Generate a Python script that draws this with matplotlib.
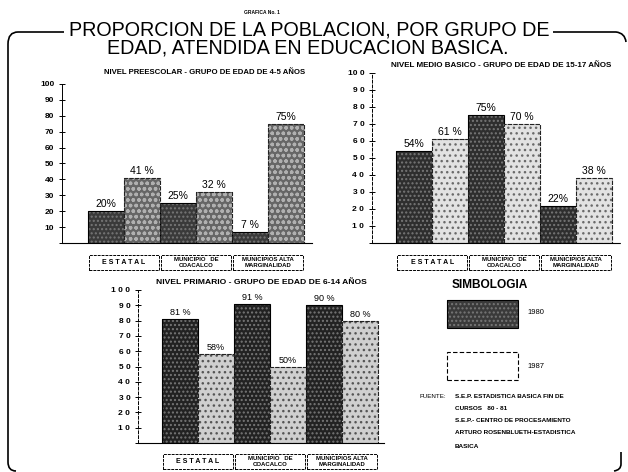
import matplotlib
matplotlib.use("Agg")
import matplotlib.pyplot as plt
from matplotlib.path import Path
from matplotlib.patches import PathPatch, Rectangle

# Data
categorias = ["E S T A T A L", "MUNICIPIO   DE\nCOACALCO", "MUNICIPIOS ALTA\nMARGINALIDAD"]
preescolar_1980 = [20, 25, 7]
preescolar_1987 = [41, 32, 75]
medio_1980 = [54, 75, 22]
medio_1987 = [61, 70, 38]
primario_1980 = [81, 91, 90]
primario_1987 = [58, 50, 80]
etiq_preescolar = [["20%", "41 %"], ["25%", "32 %"], ["7 %", "75%"]]
etiq_medio = [["54%", "61 %"], ["75%", "70 %"], ["22%", "38 %"]]
etiq_primario = [["81 %", "58%"], ["91 %", "50%"], ["90 %", "80 %"]]

W, H = 628, 472
fig = plt.figure(figsize=(W / 100, H / 100), dpi=100)
fig.patch.set_facecolor("white")
plt.rcParams["font.family"] = ["Liberation Sans", "DejaVu Sans"]


def fx(x):
    return x / W


def fy(y):
    return 1 - y / H


def px_axes(left, top, right, bottom):
    return fig.add_axes([fx(left), fy(bottom), (right - left) / W, (bottom - top) / H])


def panel(ax, v80, v87, etiq, titulo, tpos, tsize, c80, c87, h87, hc87, h_px, box_px,
          lblsize, ticklabels, spine_ls, xlim):
    x80 = [0.5, 2.5, 4.5]
    x87 = [1.5, 3.5, 5.5]
    ax.bar(x80, v80, width=1.0, color=c80, edgecolor="#777777", hatch="....", linewidth=0)
    ax.bar(x80, v80, width=1.0, fill=False, edgecolor="black", linewidth=0.8)
    ax.bar(x87, v87, width=1.0, color=c87, edgecolor=hc87, hatch=h87, linewidth=0)
    ax.bar(x87, v87, width=1.0, fill=False, edgecolor="#222222", linewidth=0.8, linestyle=(0, (4, 1)))
    for i in range(3):
        ax.text(x80[i], v80[i] + 1.2, etiq[i][0], ha="center", va="bottom", fontsize=lblsize)
        ax.text(x87[i], v87[i] + 1.2, etiq[i][1], ha="center", va="bottom", fontsize=lblsize)
    ax.set_xlim(*xlim)
    ax.set_ylim(0, 100)
    ax.set_yticks(range(0, 101, 10))
    ax.set_yticklabels([""] + ticklabels, fontsize=6, fontweight="bold")
    ax.tick_params(axis="y", direction="inout", length=5, width=0.7, pad=3)
    ax.set_xticks([])
    for s in ["top", "right"]:
        ax.spines[s].set_visible(False)
    ax.spines["left"].set_linestyle(spine_ls)
    ax.spines["left"].set_linewidth(0.7)
    ax.spines["bottom"].set_linestyle((0, (6, 1)))
    ax.spines["bottom"].set_linewidth(0.8)
    ax.patch.set_alpha(0)
    # category boxes under the axis
    tr = ax.get_xaxis_transform()
    y0 = -box_px[1] / h_px
    bh = (box_px[1] - box_px[0]) / h_px
    for i, cat in enumerate(categorias):
        ax.add_patch(Rectangle((2 * i + 0.03, y0), 1.94, bh, transform=tr, fill=False,
                               edgecolor="black", linewidth=0.7, linestyle=(0, (3, 1)),
                               clip_on=False))
        ax.text(2 * i + 1, y0 + bh / 2, cat, transform=tr, ha="center", va="center",
                fontsize=5.0 if i == 0 else 4.3, fontweight="bold", linespacing=1.1)
    ax.text(tpos[0], 1 + tpos[1] / h_px, titulo, transform=ax.transAxes, ha="center",
            va="center", fontsize=tsize, fontweight="bold")


# 1. Nivel preescolar
ax1 = px_axes(62, 84, 312, 243)
panel(ax1, preescolar_1980, preescolar_1987, etiq_preescolar,
      "NIVEL PREESCOLAR - GRUPO DE EDAD DE 4-5 AÑOS", (0.57, 12), 5.6,
      "#3a3a3a", "#666666", "ooo", "#b0b0b0", 159, (12, 27), 7.5,
      ["10", "20", "30", "40", "50", "60", "70", "80", "90", "100"], "-", (-0.72, 6.22))

# 2. Nivel medio basico
ax2 = px_axes(372, 73, 620, 243)
panel(ax2, medio_1980, medio_1987, etiq_medio,
      "NIVEL MEDIO BASICO - GRUPO DE EDAD DE 15-17 AÑOS", (0.52, 7), 5.8,
      "#2e2e2e", "#e2e2e2", "...", "#6a6a6a", 170, (12, 27), 7.5,
      ["1 0", "2 0", "3 0", "4 0", "5 0", "6 0", "7 0", "8 0", "9 0", "10 0"], (0, (3, 2)), (-0.67, 6.22))

# 3. Nivel primario
ax3 = px_axes(138, 290, 384, 443)
panel(ax3, primario_1980, primario_1987, etiq_primario,
      "NIVEL PRIMARIO - GRUPO DE EDAD DE 6-14 AÑOS", (0.5, 7), 6.1,
      "#222222", "#cfcfcf", "...", "#555555", 153, (11, 26), 6.5,
      ["1 0", "2 0", "3 0", "4 0", "5 0", "6 0", "7 0", "8 0", "9 0", "1 0 0"], (0, (3, 2)), (-0.67, 6.17))

# Titles
fig.text(fx(262), fy(12), "GRAFICA No. 1", ha="center", va="center", fontsize=3.5, fontweight="bold")
fig.text(fx(309), fy(30), "PROPORCION DE LA POBLACION, POR GRUPO DE", ha="center", va="center",
         fontsize=14.2)
fig.text(fx(308), fy(47.5), "EDAD, ATENDIDA EN EDUCACION BASICA.", ha="center", va="center",
         fontsize=14.2)

# Frame brackets
def bracket(pts, codes):
    verts = [(fx(x), fy(y)) for x, y in pts]
    fig.add_artist(PathPatch(Path(verts, codes), transform=fig.transFigure, fill=False,
                             edgecolor="black", linewidth=1.2))

M, L, C = Path.MOVETO, Path.LINETO, Path.CURVE3
bracket([(64, 32), (18, 32), (8, 32), (8, 44), (8, 462), (8, 471), (16, 471)],
        [M, L, C, C, L, C, C])
bracket([(553, 32), (616, 32), (625, 33), (626, 42)], [M, L, C, C])
bracket([(621, 452), (621, 464), (621, 470), (614, 471)], [M, L, C, C])

# Legend (SIMBOLOGIA)
fig.text(fx(452), fy(285), "SIMBOLOGIA", ha="left", va="center", fontsize=8.6, fontweight="bold")
fig.add_artist(Rectangle((fx(447), fy(328)), 71 / W, 28 / H, transform=fig.transFigure,
                         facecolor="#3a3a3a", edgecolor="#777777", hatch="....", linewidth=0))
fig.add_artist(Rectangle((fx(447), fy(328)), 71 / W, 28 / H, transform=fig.transFigure,
                         fill=False, edgecolor="black", linewidth=0.8))
fig.text(fx(527), fy(313), "1980", ha="left", va="center", fontsize=5.5)
fig.add_artist(Rectangle((fx(447), fy(380)), 71 / W, 28 / H, transform=fig.transFigure,
                         fill=False, edgecolor="black", linewidth=0.8, linestyle=(0, (4, 2))))
fig.text(fx(527), fy(367), "1987", ha="left", va="center", fontsize=5.5)

# Source
fig.text(fx(420), fy(396), "FUENTE:", ha="left", va="center", fontsize=4.5)
fuente = ["S.E.P. ESTADISTICA BASICA FIN DE", "CURSOS   80 - 81", "",
          "S.E.P.- CENTRO DE PROCESAMIENTO", "ARTURO ROSENBLUETH-ESTADISTICA", "BASICA"]
for i, linea in enumerate(fuente):
    if linea:
        ys = [396, 408, 0, 421, 433, 446][i]
        fig.text(fx(455), fy(ys), linea, ha="left", va="center", fontsize=4.6, fontweight="bold")

plt.savefig("out.png", dpi=100, facecolor="white")
